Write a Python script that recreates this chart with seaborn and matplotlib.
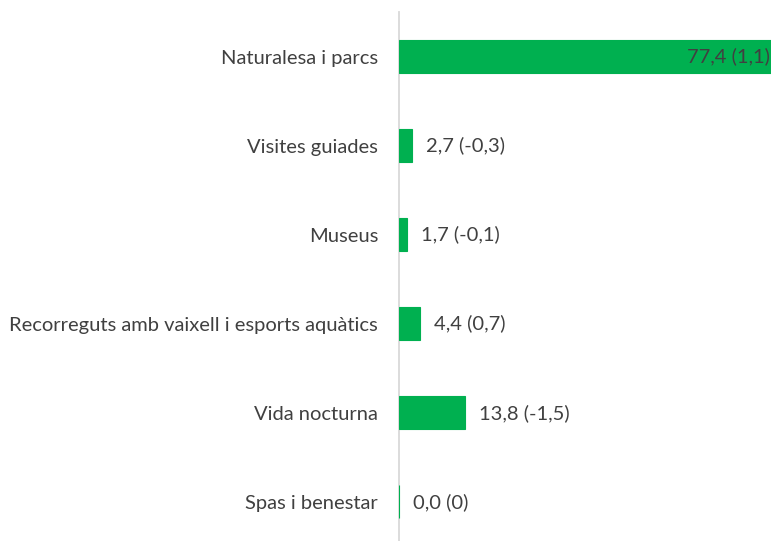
import seaborn as sns
import pandas as pd
import matplotlib.pyplot as plt

# dades
categories = ["Naturalesa i parcs", "Visites guiades", "Museus",
              "Recorreguts amb vaixell i esports aquàtics", "Vida nocturna",
              "Spas i benestar"]
values = [77.4, 2.7, 1.7, 4.4, 13.8, 0.0]
changes = [1.1, -0.3, -0.1, 0.7, -1.5, 0]

df = pd.DataFrame({"cat": categories, "val": values})

sns.set_theme(style="white")
plt.rcParams['font.family'] = ['Lato', 'DejaVu Sans']

fig = plt.figure(figsize=(7.71, 5.41), dpi=100)
ax = fig.add_axes([399 / 771, 0, 1 - 399 / 771, 529 / 541])

green = "#00B050"
sns.barplot(data=df, x="val", y="cat", color=green, width=0.37, ax=ax,
            saturation=1, edgecolor=green, linewidth=0.8, zorder=3)

ax.set_xlim(0, 77.4)
ax.set_ylim(5.44, -0.5)
ax.set_xlabel("")
ax.set_ylabel("")
ax.set_xticks([])
for s in ["top", "right", "bottom"]:
    ax.spines[s].set_visible(False)
ax.spines["left"].set_color("#D9D9D9")
ax.spines["left"].set_linewidth(1.3)
ax.tick_params(axis="y", length=0, pad=15, labelsize=14.5, labelcolor="#404040")


def fmt(v):
    if v == 0:
        return "0"
    return f"{v:.1f}".replace(".", ",")


for i, (v, c) in enumerate(zip(values, changes)):
    txt = f"{v:.1f}".replace(".", ",") + f" ({fmt(c)})"
    if v > 50:
        ax.text(v - 0.3, i, txt, ha="right", va="center", fontsize=14.5, color="#404040")
    else:
        ax.text(v + 2.9, i, txt, ha="left", va="center", fontsize=14.5, color="#404040")

fig.savefig("out.png", dpi=100)
